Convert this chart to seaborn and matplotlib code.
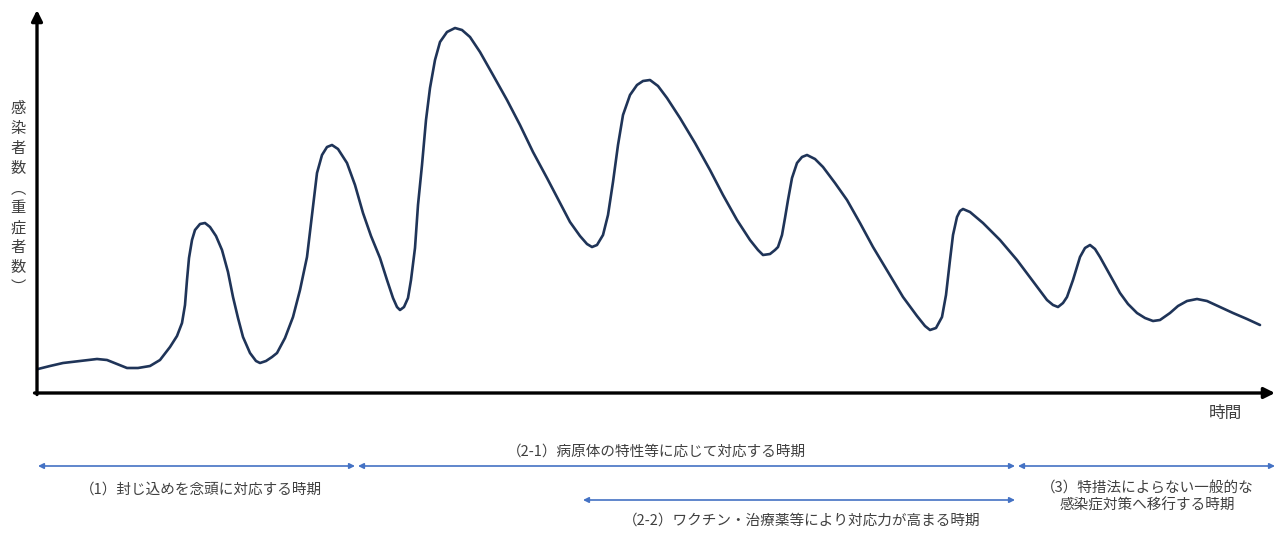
import numpy as np
import pandas as pd
import matplotlib
matplotlib.use("Agg")
import matplotlib.pyplot as plt
import matplotlib.transforms as mtransforms
import seaborn as sns

# ---- data: time (from the y axis) and value (from the time axis) ----
tiempo = [1, 13, 26, 43, 60, 70, 80, 90, 101, 113, 123, 133, 140, 145, 148, 150,
          152, 155, 158, 163, 168, 173, 179, 185, 191, 196, 201, 206, 213, 219,
          223, 229, 235, 240, 248, 256, 263, 270, 275, 280, 285, 290, 295, 301,
          310, 318, 326, 334, 343, 350, 356, 360, 363, 367, 371, 374, 378, 381,
          385, 389, 393, 398, 403, 410, 418, 425, 433, 443, 456, 470, 483, 496,
          510, 523, 533, 543, 550, 555, 560, 566, 571, 576, 581, 586, 593, 600,
          606, 613, 621, 630, 643, 658, 673, 686, 700, 713, 721, 726, 733, 738,
          741, 745, 748, 751, 755, 760, 765, 770, 778, 786, 798, 810, 823, 836,
          851, 866, 880, 888, 893, 899, 905, 909, 913, 916, 920, 923, 926, 933,
          946, 963, 980, 995, 1010, 1016, 1021, 1026, 1030, 1036, 1043, 1048,
          1053, 1058, 1063, 1073, 1083, 1091, 1100, 1108, 1116, 1123, 1133, 1141,
          1150, 1160, 1170, 1183, 1196, 1210, 1223]
valor = [24, 27, 30, 32, 34, 33, 29, 25, 25, 27, 33, 46, 57, 70, 88, 113,
         135, 153, 163, 169, 170, 166, 157, 143, 121, 96, 75, 56, 40, 32,
         30, 32, 36, 40, 55, 76, 103, 136, 178, 220, 238, 246, 248, 244,
         230, 208, 180, 157, 135, 113, 95, 86, 83, 86, 95, 113, 145, 188,
         228, 273, 305, 333, 351, 361, 365, 363, 356, 341, 318, 293, 268, 241,
         215, 190, 171, 157, 149, 146, 148, 158, 178, 211, 248, 278, 298, 308,
         312, 313, 307, 295, 275, 250, 223, 198, 173, 153, 143, 138, 139, 143,
         146, 158, 175, 193, 215, 230, 236, 238, 234, 226, 210, 193, 170, 146,
         121, 96, 77, 67, 63, 65, 76, 98, 133, 158, 176, 182, 184, 181,
         170, 153, 133, 113, 93, 88, 86, 90, 96, 113, 136, 145,
         148, 144, 136, 118, 100, 89, 80, 75, 72, 73, 80, 87,
         92, 94, 92, 86, 80, 74, 68]

# phase ranges on the time scale
fase_inicio = [1, 321, 981, 546]
fase_fin = [318, 978, 1238, 978]
fase_fila = [0, 0, 0, 1]

curva = pd.DataFrame({"tiempo": tiempo, "valor": valor})

# ---- figure ----
sns.set_theme(style="white")
plt.rcParams["font.family"] = ["Noto Sans CJK JP", "DejaVu Sans"]

W, H = 1285, 533
fig = plt.figure(figsize=(W / 100, H / 100), dpi=100)
ax = fig.add_axes([37 / W, 140 / H, 1238 / W, 383 / H])

sns.lineplot(data=curva, x="tiempo", y="valor", ax=ax, color="#1F3458",
             linewidth=1.9, solid_joinstyle="round", solid_capstyle="round")
ax.set_xlim(0, 1238)
ax.set_ylim(0, 383)
ax.set_xticks([])
ax.set_yticks([])
ax.set_xlabel("")
ax.set_ylabel("")
for s in ax.spines.values():
    s.set_visible(False)

# axis arrows
flecha = dict(arrowstyle="-|>", color="black", lw=2.4, mutation_scale=16,
              shrinkA=0, shrinkB=0)
ax.annotate("", xy=(0, 1), xytext=(0, -0.004), xycoords="axes fraction",
            arrowprops=flecha, annotation_clip=False)
ax.annotate("", xy=(1, 0), xytext=(-0.002, 0), xycoords="axes fraction",
            arrowprops=flecha, annotation_clip=False)

# y label, vertical writing
etiqueta_y = "感染者数︵重症者数︶"
fig.text(18 / W, 1 - 198 / H, "\n".join(etiqueta_y), ha="center", va="center",
         fontsize=11, color="#404040", linespacing=1.22)
fig.text(1225 / W, 1 - 413 / H, "時間", ha="center", va="center",
         fontsize=12, color="#404040")

# phase arrows below the axis
trans = mtransforms.blended_transform_factory(ax.transData, fig.transFigure)
fila_y = [1 - 466 / H, 1 - 500 / H]
for x0, x1, f in zip(fase_inicio, fase_fin, fase_fila):
    ax.annotate("", xy=(x1, fila_y[f]), xytext=(x0, fila_y[f]), xycoords=trans,
                textcoords=trans, annotation_clip=False,
                arrowprops=dict(arrowstyle="<|-|>", color="#4472C4", lw=1.2,
                                mutation_scale=8, shrinkA=0, shrinkB=0))

textos = [
    (201, 490, "（1）封じ込めを念頭に対応する時期"),
    (656, 452, "（2-1）病原体の特性等に応じて対応する時期"),
    (802, 521, "（2-2）ワクチン・治療薬等により対応力が高まる時期"),
    (1147, 497, "（3）特措法によらない一般的な\n感染症対策へ移行する時期"),
]
for px, py, t in textos:
    fig.text(px / W, 1 - py / H, t, ha="center", va="center", fontsize=10.5,
             color="#404040", linespacing=1.25)

fig.savefig("out.png", dpi=100)
